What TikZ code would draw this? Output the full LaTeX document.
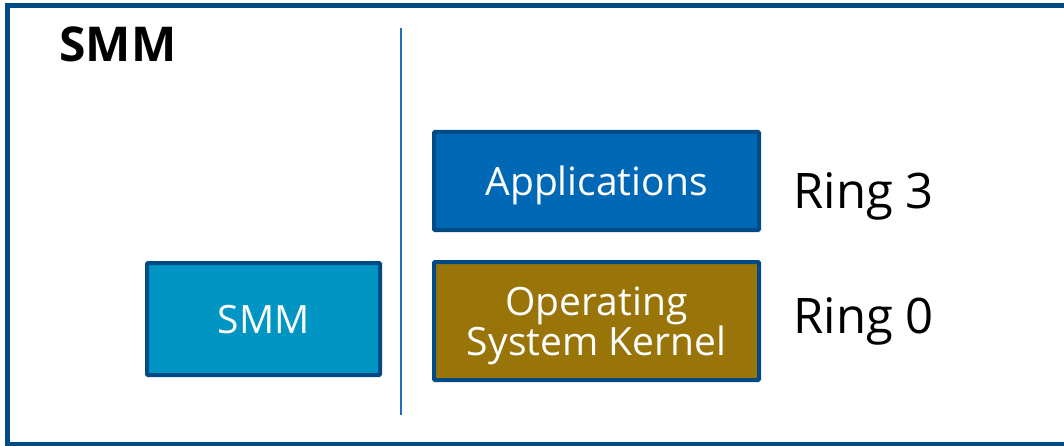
\documentclass[tikz,border=0pt]{standalone}
\usepackage{fontspec}
\setmainfont{Open Sans}
\definecolor{frameblue}{HTML}{004A86}
\definecolor{lineblue}{HTML}{1E6FC0}
\definecolor{smmcyan}{HTML}{0095C2}
\definecolor{appblue}{HTML}{0068B5}
\definecolor{kernelgold}{HTML}{987409}
\begin{document}
\begin{tikzpicture}[x=1pt, y=-1pt,
    layer/.style={draw=frameblue, line width=4pt, rounded corners=1pt, text=white,
        inner sep=0pt, text depth=0pt, align=center, font=\fontsize{39}{40}\selectfont},
    ringlabel/.style={anchor=base west, font=\fontsize{49}{52}\selectfont}]
    \clip (0,0) rectangle (1064,446);

    % Outer frame and divider
    \draw[frameblue, line width=5pt] (7.5,5.5) rectangle (1070,444.5);
    \draw[lineblue, line width=2pt] (401,28) -- (401,415);

    \node[anchor=base west, font=\bfseries\fontsize{48}{52}\selectfont] (title) at (56,62) {SMM};

    % Mode boxes
    \node[layer, fill=smmcyan, minimum width=233pt, minimum height=112pt] (smm) at (263.5,319) {SMM};
    \node[layer, fill=appblue, minimum width=325pt, minimum height=98pt] (apps) at (596.5,181) {Applications};
    \node[layer, fill=kernelgold, minimum width=325pt, minimum height=118pt] (kernel) at (596.5,321) {Operating\\System Kernel};

    % Privilege levels
    \node[ringlabel] (ring3) at (790,208) {Ring 3};
    \node[ringlabel] (ring0) at (790,333) {Ring 0};
\end{tikzpicture}
\end{document}
